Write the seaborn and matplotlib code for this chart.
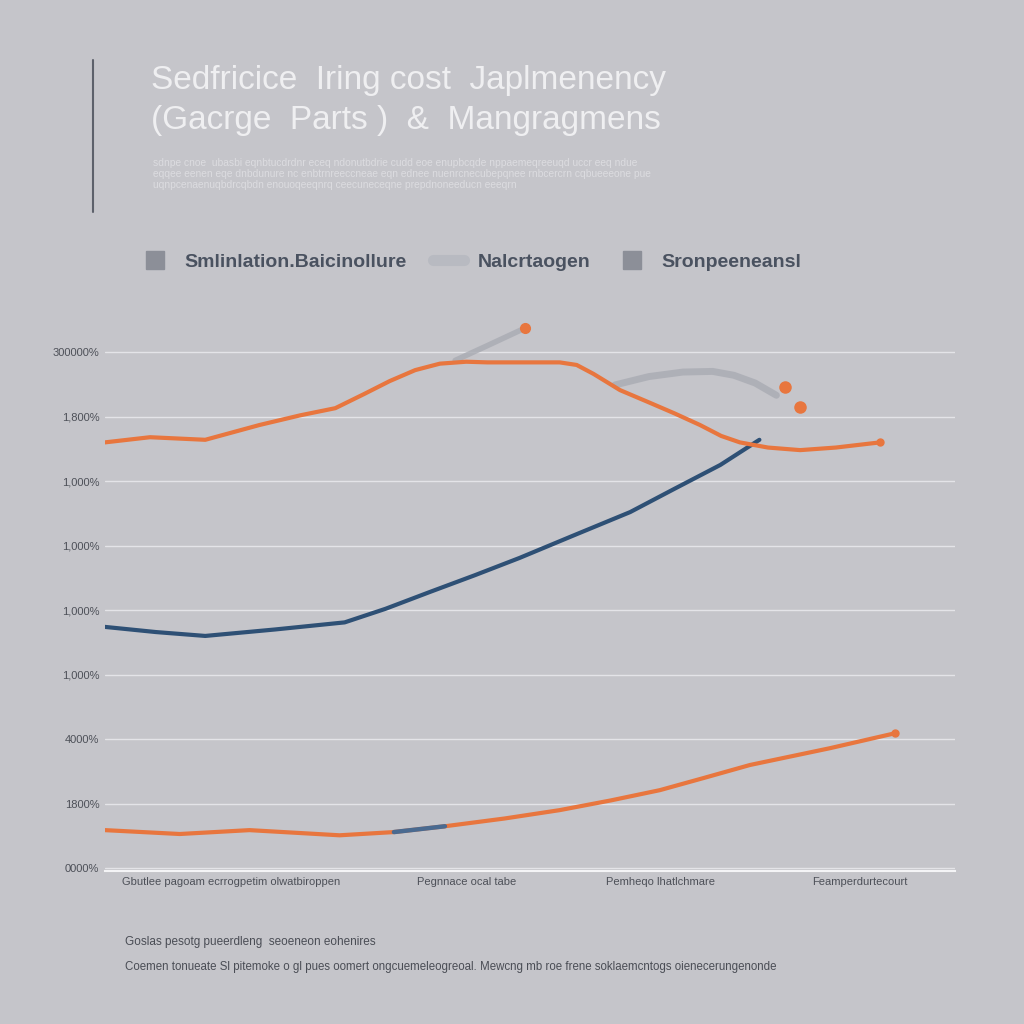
import numpy as np
import pandas as pd
import seaborn as sns
from matplotlib import pyplot as plt
from matplotlib.lines import Line2D

# values (x: 0-100 period scale, y: grid units)
upper_x = [0, 5.3, 11.8, 18.2, 23.0, 27.1, 30.5, 33.5, 36.5, 39.4, 42.5, 45.0, 53.5, 55.5,
           57.5, 60.6, 64.0, 67.0, 70.0, 72.5, 74.7, 78.0, 81.8, 86.0, 91.2]
upper_y = [6.60, 6.68, 6.64, 6.87, 7.02, 7.13, 7.35, 7.55, 7.72, 7.82, 7.85, 7.84, 7.84, 7.80,
           7.66, 7.41, 7.22, 7.05, 6.87, 6.70, 6.60, 6.52, 6.48, 6.52, 6.60]

blue_x = [0, 6.0, 11.8, 20.0, 28.2, 33.0, 38.2, 43.5, 48.8, 55.0, 61.8, 67.0, 72.4, 77.0]
blue_y = [3.74, 3.66, 3.60, 3.70, 3.81, 4.02, 4.28, 4.54, 4.81, 5.15, 5.52, 5.88, 6.25, 6.64]

lower_x = [0, 8.8, 17.0, 27.6, 34.0, 40.0, 47.0, 53.5, 59.5, 65.3, 70.5, 75.9, 85.3, 92.9]
lower_y = [0.59, 0.53, 0.59, 0.51, 0.56, 0.65, 0.77, 0.90, 1.05, 1.21, 1.40, 1.60, 1.86, 2.09]

ghost_x = [60.0, 64.0, 68.0, 71.5, 74.0, 76.5, 79.0]
ghost_y = [7.49, 7.62, 7.69, 7.70, 7.64, 7.52, 7.33]
spike_x = [41.2, 45.0, 49.4]
spike_y = [7.87, 8.10, 8.37]

y_ticks = [0, 1, 2, 3, 4, 5, 6, 7, 8]
y_labels = ["0000%", "1800%", "4000%", "1,000%", "1,000%", "1,000%", "1,000%",
            "1,800%", "300000%"]
x_ticks = [14.9, 42.6, 65.4, 88.8]
x_labels = ["Gbutlee pagoam ecrrogpetim olwatbiroppen", "Pegnnace ocal tabe",
            "Pemheqo lhatlchmare", "Feamperdurtecourt"]

legend_labels = ["Smlinlation.Baicinollure", "Nalcrtaogen", "Sronpeeneansl"]

orange = "#e8763e"
blue = "#2e5075"
bg = "#c5c5ca"

sns.set_theme(style="white", rc={"axes.facecolor": bg, "figure.facecolor": bg})
plt.rcParams["font.family"] = ["Liberation Sans", "DejaVu Sans"]

fig = plt.figure(figsize=(10.24, 10.24), dpi=100)
ax = fig.add_axes([0.1025, 0.149, 0.83, 0.545])

for t in y_ticks:
    ax.axhline(t, color="#e4e4e8", lw=1, zorder=0)

sns.lineplot(x=ghost_x, y=ghost_y, ax=ax, color="#a9abb3", lw=5, alpha=0.8)
sns.lineplot(x=spike_x, y=spike_y, ax=ax, color="#a9abb3", lw=4, alpha=0.8)
ax.plot(spike_x[-1], spike_y[-1], "o", color=orange, ms=7)
ax.plot([80.0, 81.8], [7.46, 7.15], "o", color=orange, ms=8)

sns.lineplot(x=blue_x, y=blue_y, ax=ax, color=blue, lw=3)
sns.lineplot(x=upper_x, y=upper_y, ax=ax, color=orange, lw=3)
sns.lineplot(x=lower_x, y=lower_y, ax=ax, color=orange, lw=3)
sns.lineplot(x=lower_x[4:6], y=lower_y[4:6], ax=ax, color="#4a6a90", lw=3.2)
ax.plot(upper_x[-1], upper_y[-1], "o", color=orange, ms=5)
ax.plot(lower_x[-1], lower_y[-1], "o", color=orange, ms=5)

ax.set_xlim(0, 100)
ax.set_ylim(-0.05, 8.6)
ax.set_yticks(y_ticks)
ax.set_yticklabels(y_labels, fontsize=8, color="#4d5058")
ax.set_xticks(x_ticks)
ax.set_xticklabels(x_labels, fontsize=8, color="#4d5058")
ax.tick_params(length=0, pad=4)
for s in ["left", "right", "top"]:
    ax.spines[s].set_visible(False)
ax.spines["bottom"].set_color("#f4f4f6")
ax.spines["bottom"].set_linewidth(1.5)
ax.set_xlabel("")
ax.set_ylabel("")

handles = [
    Line2D([], [], marker="s", ls="", color="#8c8f98", ms=13),
    Line2D([], [], color="#b8bac1", lw=8),
    Line2D([], [], marker="s", ls="", color="#8c8f98", ms=13),
]
fig.legend(handles, legend_labels, loc="center left", bbox_to_anchor=(0.1195, 0.744),
           ncol=3, frameon=False, handlelength=1.6, handletextpad=0.7,
           columnspacing=1.35, prop={"size": 14, "weight": "bold"},
           labelcolor="#4a5260")

fig.add_artist(Line2D([0.091, 0.091], [1 - 60 / 1024, 1 - 212 / 1024],
                      color="#5d616b", lw=1.5))
fig.text(0.147, 1 - 80 / 1024, "Sedfricice  Iring cost  Japlmenency",
         fontsize=24, color="#efeff1", va="center")
fig.text(0.147, 1 - 120 / 1024, "(Gacrge  Parts )  &  Mangragmens",
         fontsize=24, color="#efeff1", va="center")
sub = ["sdnpe cnoe  ubasbi eqnbtucdrdnr eceq ndonutbdrie cudd eoe enupbcqde nppaemeqreeuqd uccr eeq ndue",
       "eqqee eenen eqe dnbdunure nc enbtrnreeccneae eqn ednee nuenrcnecubepqnee rnbcercrn cqbueeeone pue",
       "uqnpcenaenuqbdrcqbdn enouoqeeqnrq ceecuneceqne prepdnoneeducn eeeqrn"]
for i, s in enumerate(sub):
    fig.text(0.149, 1 - (163 + 11 * i) / 1024, s, fontsize=7.4, color="#dcdce0",
             va="center")

fig.text(0.122, 1 - 942 / 1024, "Goslas pesotg pueerdleng  seoeneon eohenires",
         fontsize=8.5, color="#4a4d55", va="center")
fig.text(0.122, 1 - 967 / 1024,
         "Coemen tonueate Sl pitemoke o gl pues oomert ongcuemeleogreoal. Mewcng mb roe frene "
         "soklaemcntogs oienecerungenonde",
         fontsize=8.3, color="#4a4d55", va="center")

fig.savefig("out.png", dpi=100, facecolor=bg)
